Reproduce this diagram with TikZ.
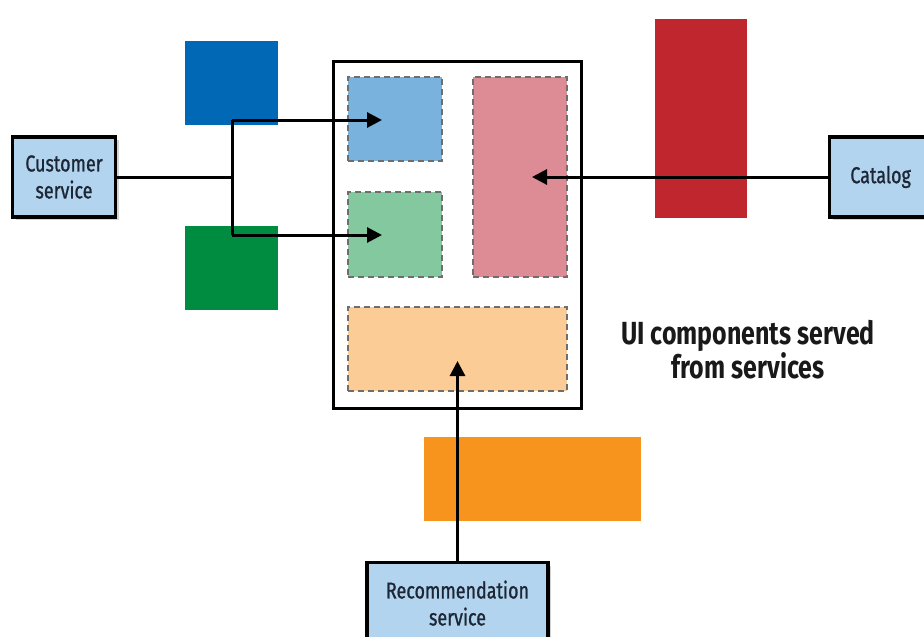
\documentclass[tikz,border=0pt]{standalone}
\usepackage{fontspec}
\setmainfont{Fira Sans}[FakeStretch=0.78]
\newfontfamily\svcfont{Fira Sans}[FakeStretch=0.78,FakeBold=0.9]
\usetikzlibrary{arrows.meta,shadows}
\definecolor{svcfill}{RGB}{178,212,238}
\definecolor{svctext}{RGB}{28,38,52}
\definecolor{custblue}{RGB}{0,104,180}
\definecolor{custgreen}{RGB}{0,140,64}
\definecolor{catred}{RGB}{192,38,45}
\definecolor{recorange}{RGB}{247,148,30}
\definecolor{uiblue}{RGB}{122,178,222}
\definecolor{uigreen}{RGB}{132,200,160}
\definecolor{uipink}{RGB}{221,140,150}
\definecolor{uiorange}{RGB}{252,204,150}
\definecolor{dashgray}{RGB}{110,110,110}
\tikzset{
  svcbox/.style={draw=black,line width=3.2pt,fill=svcfill,
    drop shadow={opacity=0.35,shadow xshift=3pt,shadow yshift=-3pt},
    align=center,font=\svcfont\fontsize{23}{27}\selectfont,text=svctext},
  uipart/.style={draw=dashgray,dashed,dash pattern=on 6pt off 4pt,line width=2.2pt,inner sep=0pt},
  feed/.style={line width=3pt,-{Triangle[length=15pt,width=15pt]}},
  plain/.style={line width=3pt}
}
\begin{document}
\begin{tikzpicture}[x=1pt,y=-1pt]
\useasboundingbox (0,0) rectangle (924,637);
\begin{scope}
\clip (0,0) rectangle (924,637);

% service colour slabs
\fill[custblue] (185,41) rectangle (278,125);
\fill[custgreen] (185,226) rectangle (278,310);
\fill[catred] (655,19) rectangle (747,218);
\fill[recorange] (424,437) rectangle (641,521);

% page with its UI components
\draw[line width=3pt,fill=white] (333,61) rectangle (581,408);
\node[uipart,fill=uiblue,minimum width=94pt,minimum height=84pt] (ublue) at (395,119) {};
\node[uipart,fill=uigreen,minimum width=94pt,minimum height=85pt] (ugreen) at (395,234.5) {};
\node[uipart,fill=uipink,minimum width=94pt,minimum height=200pt] (upink) at (520,177) {};
\node[uipart,fill=uiorange,minimum width=219pt,minimum height=84pt] (uorange) at (457.5,349) {};

% services
\node[svcbox,minimum width=103pt,minimum height=80pt] (cust) at (64,177) {Customer\\service};
\node[svcbox,minimum width=110pt,minimum height=80pt,anchor=west] (cat) at (828,177) {\hspace*{-8pt}Catalog};
\node[svcbox,minimum width=181pt,minimum height=84pt,anchor=north] (rec) at (457.5,561) {\\[-12pt]Recommendation\\service};

% connectors
\coordinate (split) at (232,177);
\coordinate (splittop) at (232,120);
\coordinate (splitbot) at (232,235);
\coordinate (blueend) at (382,120);
\coordinate (greenend) at (382,235);
\coordinate (pinkend) at (532,177);
\coordinate (orangeend) at (457.5,361);
\draw[plain] (cust.east) -- (split);
\draw[plain] (splitbot) -- (splittop);
\draw[feed] (splittop) -- (blueend);
\draw[feed] (splitbot) -- (greenend);
\draw[feed] (cat.west) -- (pinkend);
\draw[feed] (rec.north) -- (orangeend);

% caption
\node[font=\fontsize{32}{29}\selectfont\bfseries,align=center,text=black!90] (cap) at (748,350) {UI components served\\from services};
\end{scope}
\end{tikzpicture}
\end{document}
